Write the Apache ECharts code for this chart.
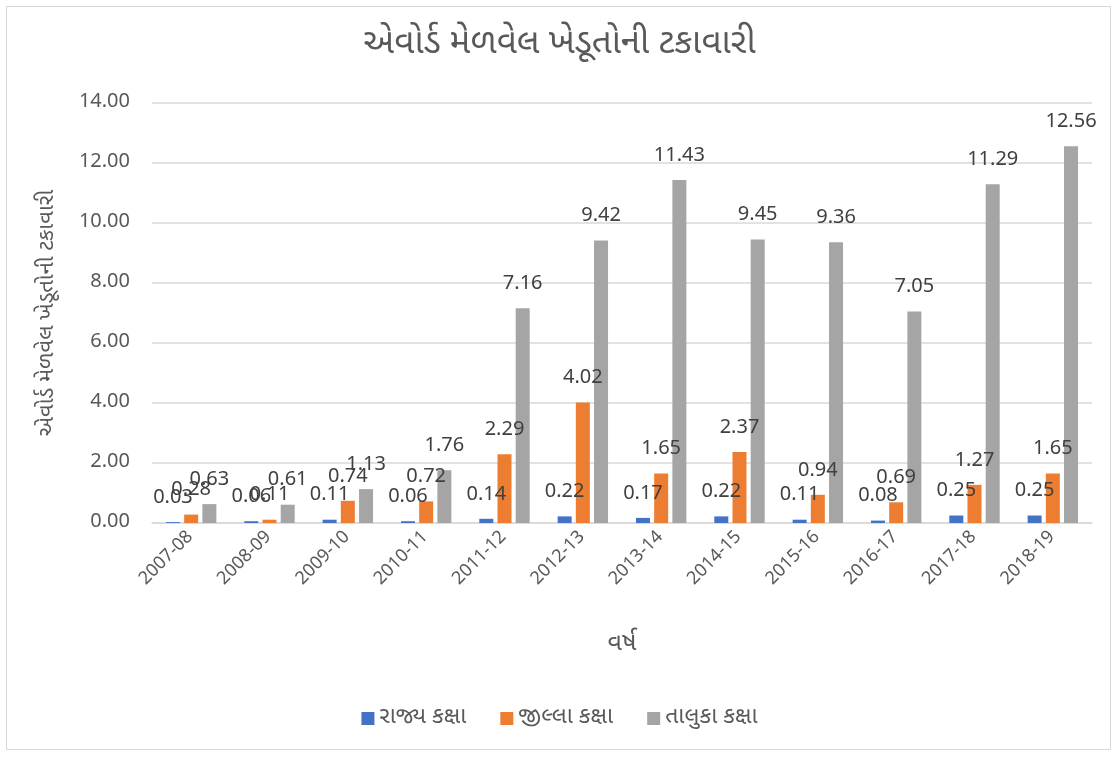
<!DOCTYPE html>
<html>
<head>
<meta charset="utf-8">
<script src="https://cdn.jsdelivr.net/npm/echarts@6/dist/echarts.min.js"></script>
<style>
  html, body { margin: 0; padding: 0; background: #fff; }
  #frame { position: absolute; left: 6px; top: 6px; width: 1105px; height: 744px; border: 1px solid #d9d9d9; box-sizing: border-box; }
  #chart { width: 1119px; height: 757px; }
</style>
</head>
<body>
<div id="frame"></div>
<div id="chart"></div>
<script>
// data
const years = ["2007-08", "2008-09", "2009-10", "2010-11", "2011-12", "2012-13",
  "2013-14", "2014-15", "2015-16", "2016-17", "2017-18", "2018-19"];
const stateLevel = [0.03, 0.06, 0.11, 0.06, 0.14, 0.22, 0.17, 0.22, 0.11, 0.08, 0.25, 0.25];
const districtLevel = [0.28, 0.11, 0.74, 0.72, 2.29, 4.02, 1.65, 2.37, 0.94, 0.69, 1.27, 1.65];
const talukaLevel = [0.63, 0.61, 1.13, 1.76, 7.16, 9.42, 11.43, 9.45, 9.36, 7.05, 11.29, 12.56];
const seriesNames = ["રાજ્ય કક્ષા", "જીલ્લા કક્ષા", "તાલુકા કક્ષા"];

const font = "'Noto Sans Gujarati', 'Noto Sans', 'Open Sans', sans-serif";
let txt = "#595959";

let chart = echarts.init(document.getElementById("chart"));

function barSeries(name, data, color) {
  return {
    name: name,
    type: "bar",
    data: data,
    barWidth: 14,
    barGap: "30%",
    itemStyle: { color: color },
    label: {
      show: true,
      position: "top",
      distance: 13,
      color: "#404040",
      fontSize: 20,
      fontFamily: font,
      formatter: p => p.value.toFixed(2)
    }
  };
}

let option = {
  animation: false,
  backgroundColor: "transparent",
  title: {
    text: "એવોર્ડ મેળવેલ ખેડૂતોની ટકાવારી",
    left: "center",
    top: 24,
    textStyle: { color: txt, fontSize: 35, fontWeight: "normal", fontFamily: font }
  },
  legend: {
    bottom: 22,
    left: "center",
    itemWidth: 13,
    itemHeight: 13,
    itemGap: 34,
    itemStyle: { borderWidth: 0 },
    icon: "rect",
    textStyle: { color: txt, fontSize: 23, fontFamily: font },
    data: seriesNames
  },
  grid: { left: 152, right: 27, top: 103, bottom: 234 },
  xAxis: {
    type: "category",
    data: years,
    name: "વર્ષ",
    nameLocation: "middle",
    nameGap: 110,
    nameTextStyle: { color: txt, fontSize: 25, fontFamily: font },
    axisTick: { show: false },
    axisLine: { lineStyle: { color: "#d9d9d9", width: 1.5 } },
    axisLabel: { rotate: 45, color: txt, fontSize: 18, fontFamily: font, margin: 12, interval: 0 }
  },
  yAxis: {
    type: "value",
    min: 0,
    max: 14,
    interval: 2,
    name: "એવોર્ડ મેળવેલ ખેડૂતોની ટકાવારી",
    nameLocation: "middle",
    nameGap: 92,
    nameTextStyle: { color: txt, fontSize: 22, fontFamily: font },
    axisLine: { show: false },
    axisTick: { show: false },
    axisLabel: { color: txt, fontSize: 20, fontFamily: font, margin: 22, formatter: v => v.toFixed(2) },
    splitLine: { lineStyle: { color: "#d9d9d9", width: 1.5 } }
  },
  series: [
    barSeries(seriesNames[0], stateLevel, "#4472c4"),
    barSeries(seriesNames[1], districtLevel, "#ed7d31"),
    barSeries(seriesNames[2], talukaLevel, "#a5a5a5")
  ]
};

chart.setOption(option);
</script>
</body>
</html>
